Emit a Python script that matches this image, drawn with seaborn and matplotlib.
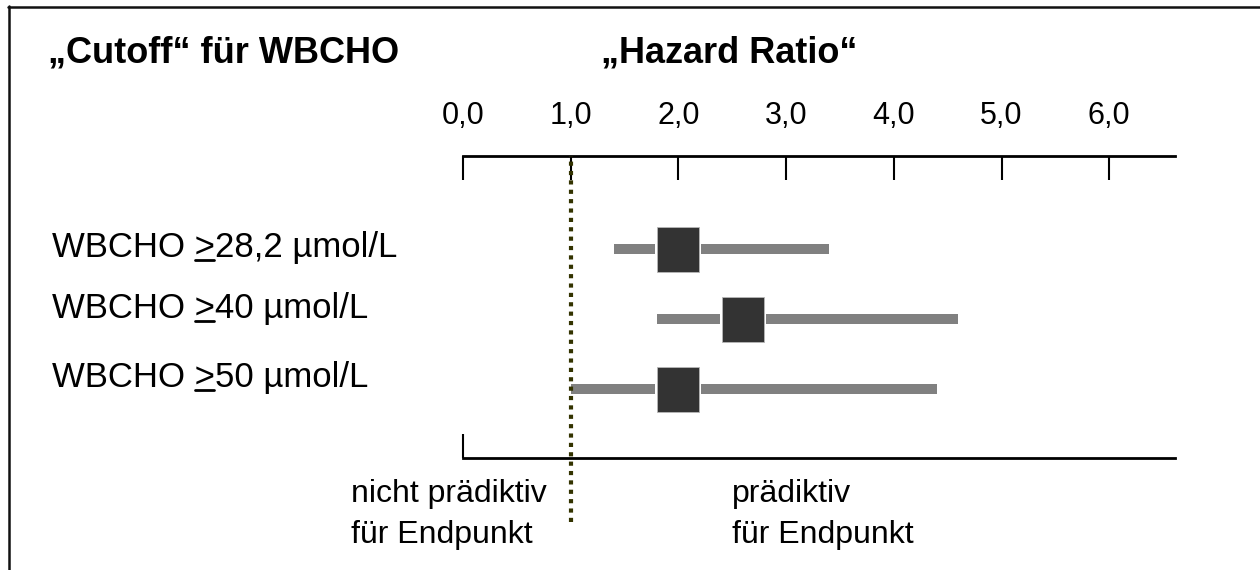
import matplotlib
matplotlib.use("Agg")
import matplotlib.pyplot as plt
import pandas as pd
import seaborn as sns
from matplotlib.lines import Line2D
from matplotlib.path import Path
from matplotlib.textpath import TextPath
from matplotlib.font_manager import FontProperties

# ---- data -------------------------------------------------------------
cutoffs = ["28,2", "40", "50"]          # WBCHO thresholds (µmol/L)
hazard_ratio = [2.0, 2.6, 2.0]
ci_low = [1.4, 1.8, 1.0]
ci_high = [3.4, 4.6, 4.4]
tick_values = [0, 1, 2, 3, 4, 5, 6]
tick_labels = ["0,0", "1,0", "2,0", "3,0", "4,0", "5,0", "6,0"]
reference_hr = 1.0
x_max = 6.61

# ---- layout (pixels on a 1260 x 570 canvas) ---------------------------
W, H = 1260, 570
AX_LEFT, AX_RIGHT = 463, 1175
AX_TOP, AX_BOTTOM = 156, 457.7
ROW0_Y, ROW_STEP = 249, 70
LABEL_X = 52
LABEL_BASELINES = [257.3, 318.3, 386.7]

sns.set_theme(style="white")
plt.rcParams["font.family"] = ["Liberation Sans", "DejaVu Sans"]
plt.rcParams["text.color"] = "black"

fig = plt.figure(figsize=(W / 100, H / 100), dpi=100)
fig.patch.set_facecolor("white")


def fx(px):
    return px / W


def fy(py):
    return 1 - py / H


ax = fig.add_axes([fx(AX_LEFT), fy(AX_BOTTOM),
                   (AX_RIGHT - AX_LEFT) / W, (AX_BOTTOM - AX_TOP) / H])
ax.set_facecolor("none")

df = pd.DataFrame({
    "row": range(len(cutoffs)),
    "hr": hazard_ratio,
    "lo": ci_low,
    "hi": ci_high,
})

# confidence intervals
ax.hlines(df["row"], df["lo"], df["hi"], color="#808080", lw=7.2,
          capstyle="butt", zorder=2)

# hazard-ratio boxes: a white halo under a dark box
box = Path([(-0.467, -0.5), (0.467, -0.5), (0.467, 0.5), (-0.467, 0.5),
            (-0.467, -0.5)], closed=True)
sns.scatterplot(data=df, x="hr", y="row", marker=box, s=36.0 ** 2,
                color="white", linewidth=0, ax=ax, zorder=3, legend=False)
sns.scatterplot(data=df, x="hr", y="row", marker=box, s=32.4 ** 2,
                color="#333333", edgecolor="#b8b8b8", linewidth=0.6,
                ax=ax, zorder=4, legend=False)

# reference line at HR = 1
ax.axvline(reference_hr, ymin=(AX_BOTTOM - 521.7) / (AX_BOTTOM - AX_TOP),
           ymax=1, clip_on=False, color="#333300", lw=3.0,
           linestyle=(0, (1, 1.25)), dash_capstyle="butt", zorder=5)

# axes
ax.set_xlim(0, x_max)
ax.set_ylim(2 + (AX_BOTTOM - (ROW0_Y + 2 * ROW_STEP)) / ROW_STEP,
            -(ROW0_Y - AX_TOP) / ROW_STEP)
ax.set_xlabel("")
ax.set_ylabel("")
ax.set_yticks([])
for side in ("left", "right"):
    ax.spines[side].set_visible(False)
for side in ("top", "bottom"):
    ax.spines[side].set_visible(True)
    ax.spines[side].set_color("black")
    ax.spines[side].set_linewidth(2.0)
ax.set_xticks(tick_values, tick_labels)
ax.tick_params(axis="x", top=True, bottom=False, labeltop=True,
               labelbottom=False, direction="in", length=17.3, width=1.5,
               color="black", pad=18, labelsize=22, labelcolor="black")

sec = ax.secondary_xaxis("bottom")
sec.set_xticks([0], labels=[""])
sec.spines["bottom"].set_visible(False)
sec.tick_params(axis="x", bottom=True, direction="in", length=17.3,
                width=1.5, color="black", labelbottom=False)

# titles
fig.text(fx(48), fy(62), "\u201eCutoff\u201c für WBCHO", fontsize=26,
         fontweight="bold", va="baseline", ha="left")
fig.text(fx(601), fy(62), "\u201eHazard Ratio\u201c", fontsize=26,
         fontweight="bold", va="baseline", ha="left")

# row labels with underlined ">"
label_size = 25
fp = FontProperties(family="Liberation Sans", size=label_size)
px_per_pt = fig.dpi / 72
for cut, base in zip(cutoffs, LABEL_BASELINES):
    prefix = "WBCHO >"
    fig.text(fx(LABEL_X), fy(base), f"WBCHO >{cut} µmol/L",
             fontsize=label_size, va="baseline", ha="left")
    x_right = TextPath((0, 0), prefix, prop=fp).get_extents().x1 * px_per_pt
    gt_w = TextPath((0, 0), ">", prop=fp).get_extents()
    x_left = x_right - (gt_w.x1 - gt_w.x0) * px_per_pt
    fig.add_artist(Line2D([fx(LABEL_X + x_left - 1), fx(LABEL_X + x_right + 1)],
                          [fy(base + 3), fy(base + 3)],
                          transform=fig.transFigure, color="black", lw=2.0))

# interpretation notes under the axis
note_size = 23
fig.text(fx(351), fy(501.7), "nicht prädiktiv", fontsize=note_size, va="baseline")
fig.text(fx(351), fy(543), "für Endpunkt", fontsize=note_size, va="baseline")
fig.text(fx(732), fy(501.7), "prädiktiv", fontsize=note_size, va="baseline")
fig.text(fx(732), fy(543), "für Endpunkt", fontsize=note_size, va="baseline")

# frame
fig.add_artist(Line2D([fx(9), fx(9)], [fy(6), 0], transform=fig.transFigure,
                      color="#111111", lw=1.8))
fig.add_artist(Line2D([fx(8), 1], [fy(7), fy(7)], transform=fig.transFigure,
                      color="#111111", lw=1.8))

fig.savefig("out.png", dpi=100)
